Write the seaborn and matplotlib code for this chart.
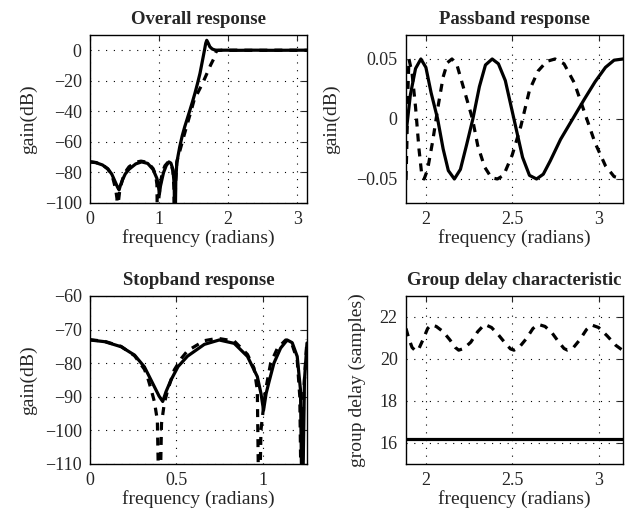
import matplotlib
matplotlib.use("Agg")
import matplotlib.pyplot as plt
import numpy as np
import seaborn as sns
from matplotlib.ticker import FuncFormatter

# ---- data (frequency in radians) ----
# stopband, 0 .. 0.4*pi (gain in dB)
stop_freq_a = [0.0, 0.085, 0.18, 0.258, 0.315, 0.363, 0.40, 0.421, 0.44, 0.469,
               0.51, 0.565, 0.662, 0.748, 0.835, 0.912, 0.969, 0.99, 1.005, 1.02,
               1.037, 1.065, 1.104, 1.142, 1.171, 1.20, 1.219, 1.229, 1.242, 1.2566]
stop_gain_a = [-73.1, -73.6, -75.1, -77.6, -81.1, -86.0, -89.8, -91.4, -88.5, -85.0,
               -81.0, -77.9, -74.4, -73.1, -74.1, -78.0, -84.0, -89.0, -94.0, -89.0,
               -85.5, -80.0, -75.5, -73.1, -73.9, -78.0, -88.0, -130.0, -85.0, -74.0]

stop_freq_b = [0.0, 0.085, 0.18, 0.258, 0.315, 0.335, 0.355, 0.373, 0.39, 0.402,
               0.414, 0.43, 0.45, 0.488, 0.53, 0.565, 0.662, 0.738, 0.835, 0.912,
               0.95, 0.969, 0.979, 0.99, 1.005, 1.017, 1.046, 1.085, 1.133, 1.165,
               1.20, 1.215, 1.225, 1.238, 1.2566]
stop_gain_b = [-73.0, -73.5, -75.0, -77.8, -81.8, -84.5, -88.0, -91.5, -97.0, -130.0,
               -98.0, -92.0, -88.0, -82.0, -78.5, -76.3, -73.3, -72.6, -73.4, -77.4,
               -81.5, -88.0, -130.0, -100.0, -93.0, -88.0, -80.0, -75.6, -73.1, -73.6,
               -79.0, -90.0, -130.0, -88.0, -73.0]

# transition band, 0.4*pi .. 0.6*pi
trans_freq_a = [1.275, 1.30, 1.335, 1.372, 1.41, 1.448, 1.485, 1.52, 1.555, 1.592,
                1.625, 1.657, 1.675, 1.69, 1.71, 1.735, 1.77, 1.807, 1.84]
trans_gain_a = [-69.0, -63.0, -56.0, -50.0, -44.5, -39.0, -33.5, -28.0, -22.0, -15.2,
                -7.5, 0.0, 4.5, 6.5, 4.8, 2.3, 0.8, 0.2, 0.02]

trans_freq_b = [1.275, 1.30, 1.36, 1.42, 1.48, 1.507, 1.57, 1.633, 1.69, 1.745,
                1.787, 1.81, 1.83, 1.85]
trans_gain_b = [-70.0, -66.0, -56.0, -46.5, -37.0, -32.6, -27.0, -21.3, -15.5, -9.8,
                -6.0, -2.5, -0.6, -0.1]

# passband, 0.6*pi .. pi
pass_freq_a = [1.885, 1.91, 1.94, 1.971, 2.00, 2.03, 2.068, 2.10, 2.13, 2.165,
               2.20, 2.235, 2.272, 2.31, 2.345, 2.384, 2.42, 2.46, 2.51, 2.56,
               2.60, 2.641, 2.68, 2.72, 2.78, 2.85, 2.92, 2.98, 3.04, 3.09, 3.1416]
pass_gain_a = [-0.012, 0.02, 0.042, 0.05, 0.043, 0.022, 0.0, -0.025, -0.043, -0.05,
               -0.042, -0.022, 0.0, 0.027, 0.045, 0.05, 0.046, 0.032, 0.0, -0.032,
               -0.047, -0.05, -0.046, -0.035, -0.017, 0.0, 0.017, 0.031, 0.043, 0.049, 0.05]

pass_freq_b = [1.885, 1.89, 1.895, 1.902, 1.92, 1.94, 1.96, 1.975, 1.99, 2.01,
               2.04, 2.07, 2.10, 2.125, 2.151, 2.18, 2.22, 2.27, 2.30, 2.34,
               2.38, 2.414, 2.45, 2.50, 2.55, 2.60, 2.65, 2.70, 2.748, 2.80,
               2.86, 2.92, 2.98, 3.04, 3.09, 3.1416]
pass_gain_b = [-0.05, -0.02, 0.02, 0.05, 0.038, 0.01, -0.025, -0.045, -0.05, -0.042,
               -0.018, 0.01, 0.035, 0.047, 0.05, 0.045, 0.025, 0.0, -0.022, -0.04,
               -0.049, -0.05, -0.047, -0.03, -0.006, 0.024, 0.04, 0.048, 0.05, 0.046,
               0.03, 0.005, -0.02, -0.039, -0.048, -0.05]

# group delay in the passband (samples)
gd_freq_a = [1.885, 3.1416]
gd_delay_a = [16.2, 16.2]

gd_freq_b = [1.885, 1.90, 1.92, 1.942, 1.96, 1.985, 2.01, 2.03, 2.06, 2.10,
             2.14, 2.17, 2.19, 2.22, 2.26, 2.30, 2.34, 2.38, 2.42, 2.46,
             2.49, 2.51, 2.54, 2.58, 2.62, 2.65, 2.69, 2.73, 2.77, 2.80,
             2.82, 2.85, 2.89, 2.93, 2.96, 3.00, 3.05, 3.10, 3.1416]
gd_delay_b = [21.45, 21.0, 20.55, 20.37, 20.5, 20.95, 21.45, 21.63, 21.55, 21.3,
              20.9, 20.55, 20.42, 20.5, 20.8, 21.3, 21.65, 21.5, 21.15, 20.75,
              20.48, 20.42, 20.55, 20.95, 21.45, 21.65, 21.55, 21.25, 20.8, 20.5,
              20.42, 20.5, 20.9, 21.4, 21.62, 21.5, 21.1, 20.65, 20.4]

# full band = stopband + transition + passband
full_freq_a = stop_freq_a + trans_freq_a + pass_freq_a
full_gain_a = stop_gain_a + trans_gain_a + pass_gain_a
full_freq_b = stop_freq_b + trans_freq_b + pass_freq_b
full_gain_b = stop_gain_b + trans_gain_b + pass_gain_b

sns.set_style("white")
plt.rcParams["font.family"] = ["Liberation Serif", "DejaVu Serif"]
plt.rcParams["mathtext.fontset"] = "stix"

LW = 2.3
DASH = (0, (2.5, 2.2))


def fmt_tick(v, _pos):
    return f"{v:g}".replace("-", "\u2212")


def draw_pair(ax, xa, ya, xb, yb):
    """Solid and dashed curves in black."""
    sns.lineplot(x=xa, y=ya, ax=ax, color="k", linewidth=LW, sort=False)
    sns.lineplot(x=xb, y=yb, ax=ax, color="k", linewidth=LW, sort=False,
                 linestyle=DASH)


def style_axes(ax, title, ylabel, xlim, ylim, xticks, yticks, ylab_x):
    ax.set_xlim(xlim)
    ax.set_ylim(ylim)
    ax.set_xticks(xticks)
    ax.set_yticks(yticks)
    ax.xaxis.set_major_formatter(FuncFormatter(fmt_tick))
    ax.yaxis.set_major_formatter(FuncFormatter(fmt_tick))
    ax.grid(True, color="k", linestyle=(0, (1, 6)), linewidth=0.8)
    ax.tick_params(direction="in", length=4, width=0.8, top=True, right=True,
                   labelsize=13, pad=6)
    for s in ax.spines.values():
        s.set_color("k")
        s.set_linewidth(1.0)
    ax.set_title(title, fontsize=13.5, fontweight="bold", pad=8)
    ax.set_xlabel("frequency (radians)", fontsize=14)
    ax.set_ylabel(ylabel, fontsize=14)
    ax.xaxis.set_label_coords(0.5, -0.155)
    ax.yaxis.set_label_coords(ylab_x, 0.5)


fig = plt.figure(figsize=(6.26, 5.19), dpi=100)
ax_all = fig.add_axes([0.1438, 0.6089, 0.3466, 0.3237])
ax_pass = fig.add_axes([0.6486, 0.6089, 0.3466, 0.3237])
ax_stop = fig.add_axes([0.1438, 0.1060, 0.3466, 0.3237])
ax_gd = fig.add_axes([0.6486, 0.1060, 0.3466, 0.3237])

draw_pair(ax_all, full_freq_a, full_gain_a, full_freq_b, full_gain_b)
style_axes(ax_all, "Overall response", "gain(dB)", (0, np.pi), (-100, 10),
           [0, 1, 2, 3], [-100, -80, -60, -40, -20, 0], -0.244)

draw_pair(ax_pass, pass_freq_a, pass_gain_a, pass_freq_b, pass_gain_b)
style_axes(ax_pass, "Passband response", "gain(dB)", (0.6 * np.pi, np.pi), (-0.07, 0.07),
           [2, 2.5, 3], [-0.05, 0, 0.05], -0.304)

draw_pair(ax_stop, stop_freq_a, stop_gain_a, stop_freq_b, stop_gain_b)
style_axes(ax_stop, "Stopband response", "gain(dB)", (0, 0.4 * np.pi), (-110, -60),
           [0, 0.5, 1], [-110, -100, -90, -80, -70, -60], -0.244)

draw_pair(ax_gd, gd_freq_a, gd_delay_a, gd_freq_b, gd_delay_b)
style_axes(ax_gd, "Group delay characteristic", "group delay (samples)",
           (0.6 * np.pi, np.pi), (15, 23), [2, 2.5, 3], [16, 18, 20, 22], -0.184)

fig.savefig("out.png", dpi=100)
